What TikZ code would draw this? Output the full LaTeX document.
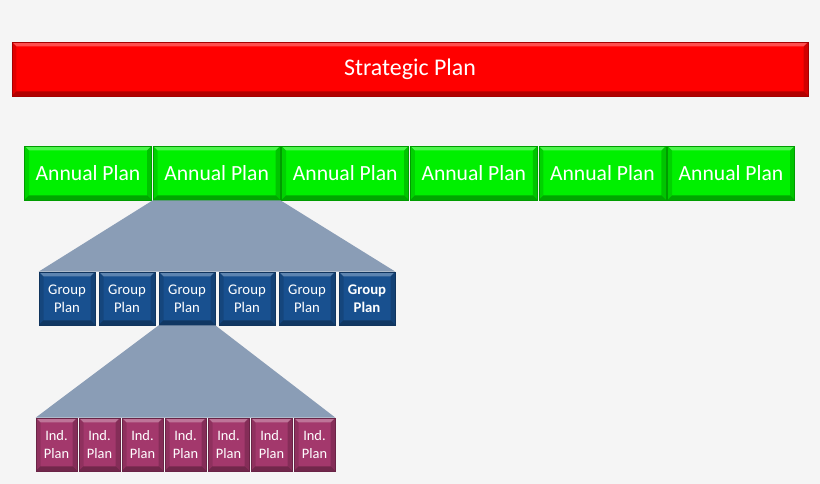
\documentclass[tikz,border=0pt]{standalone}
\usepackage{fontspec}
\setmainfont{Carlito}
\usetikzlibrary{calc}

\definecolor{bgGray}{HTML}{F5F5F5}
\definecolor{stratRed}{HTML}{FF0000}
\definecolor{annualGreen}{HTML}{00F000}
\definecolor{groupBlue}{HTML}{18508F}
\definecolor{indPlum}{HTML}{A3386C}
\definecolor{fanGray}{HTML}{8A9DB6}

\newcommand{\bw}{0.09}

\tikzset{
    plate/.style={fill=#1, draw=#1!65!black, line width=0.4pt, text=white,
        align=center, inner sep=0pt, path picture={
            \coordinate (pnw) at (path picture bounding box.north west);
            \coordinate (pne) at (path picture bounding box.north east);
            \coordinate (psw) at (path picture bounding box.south west);
            \coordinate (pse) at (path picture bounding box.south east);
            \fill[white, opacity=0.3] (pnw) -- (pne) -- ($(pne)+(-\bw,-\bw)$) -- ($(pnw)+(\bw,-\bw)$) -- cycle;
            \fill[black, opacity=0.3] (psw) -- (pse) -- ($(pse)+(-\bw,\bw)$) -- ($(psw)+(\bw,\bw)$) -- cycle;
            \fill[black, opacity=0.12] (pnw) -- (psw) -- ($(psw)+(\bw,\bw)$) -- ($(pnw)+(\bw,-\bw)$) -- cycle;
            \fill[black, opacity=0.18] (pne) -- (pse) -- ($(pse)+(-\bw,\bw)$) -- ($(pne)+(-\bw,-\bw)$) -- cycle;
        }},
    strategic/.style={plate=stratRed, minimum width=15.92cm, minimum height=1.08cm, font=\fontsize{13.6}{15}\selectfont},
    annual/.style={plate=annualGreen, minimum width=2.54cm, minimum height=1.08cm, font=\fontsize{12.3}{14}\selectfont},
    group/.style={plate=groupBlue, minimum width=1.12cm, minimum height=1.06cm, font=\fontsize{8.4}{10.4}\selectfont},
    ind/.style={plate=indPlum, minimum width=0.82cm, minimum height=1.06cm, font=\fontsize{8.2}{10.2}\selectfont},
    fan/.style={fill=fanGray}
}

\begin{document}
\begin{tikzpicture}
    \fill[bgGray] (0,0) rectangle (16.4,9.68);
    \useasboundingbox (0,0) rectangle (16.4,9.68);

    % Strategic level
    \node[strategic] (strat) at (8.2,8.30) {Strategic Plan};

    % Annual plans
    \foreach \i in {1,...,6}
        \node[annual] (a\i) at ({1.76+2.572*(\i-1)},6.22) {Annual Plan};

    % Group plans
    \foreach \i in {1,...,5}
        \node[group] (g\i) at ({1.34+1.2*(\i-1)},3.71) {Group\\Plan};
    \node[group, font=\fontsize{8.4}{10.4}\selectfont\bfseries] (g6) at (7.34,3.71) {Group\\Plan};

    % Individual plans
    \foreach \i in {1,...,7}
        \node[ind] (p\i) at ({1.13+0.86*(\i-1)},0.79) {Ind.\\Plan};

    % Fans
    \fill[fan] (a2.south west) -- (a2.south east) -- (g6.north east) -- (g1.north west) -- cycle;
    \fill[fan] (g3.south west) -- (g3.south east) -- (p7.north east) -- (p1.north west) -- cycle;
\end{tikzpicture}
\end{document}
